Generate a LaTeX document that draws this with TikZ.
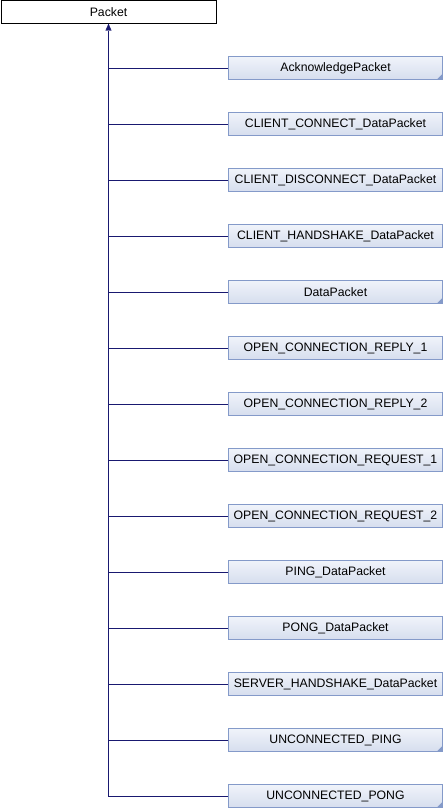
\documentclass[tikz,border=0pt]{standalone}
\usepackage{fontspec}
\setmainfont{Liberation Sans}
\usetikzlibrary{arrows.meta}
\definecolor{edgeblue}{RGB}{25,25,112}
\definecolor{boxline}{RGB}{132,154,201}
\definecolor{boxtop}{RGB}{240,243,250}
\definecolor{boxbot}{RGB}{214,222,238}
\tikzset{
  rootbox/.style={draw=black, fill=white, minimum width=216, minimum height=23, inner sep=0pt},
  childbox/.style={draw=boxline, top color=boxtop, bottom color=boxbot, minimum width=215, minimum height=23, inner sep=0pt},
  inherit/.style={draw=edgeblue}
}
\begin{document}
\begin{tikzpicture}[x=1bp, y=-1bp, font=\fontsize{12.3}{14}\selectfont]
    \useasboundingbox (0, 0) rectangle (444, 808);
    \node[rootbox] (packet) at(108.5, 12) {Packet};
    \foreach \name [count=\i] in {AcknowledgePacket, CLIENT\_CONNECT\_DataPacket,
        CLIENT\_DISCONNECT\_DataPacket, CLIENT\_HANDSHAKE\_DataPacket, DataPacket,
        OPEN\_CONNECTION\_REPLY\_1, OPEN\_CONNECTION\_REPLY\_2,
        OPEN\_CONNECTION\_REQUEST\_1, OPEN\_CONNECTION\_REQUEST\_2,
        PING\_DataPacket, PONG\_DataPacket, SERVER\_HANDSHAKE\_DataPacket,
        UNCONNECTED\_PING, UNCONNECTED\_PONG}
        \node[childbox] (c\i) at(335.5, {68 + 56*(\i-1)}) {\name};
    % folded corner on classes with own children
    \foreach \i in {1, 5, 13, 14}
        \fill[boxline] (c\i.south east) -- ++(-6, 0) -- ++(6, -6) -- cycle;
    \coordinate (trunk) at (packet.south |- c14.west);
    \draw[inherit, -{Triangle[length=7bp, width=6bp]}] (c14.west) -- (trunk) -- (packet.south);
    \foreach \i in {1, ..., 13}
        \draw[inherit] (c\i.west) -- (c\i.west -| packet.south);
\end{tikzpicture}
\end{document}
